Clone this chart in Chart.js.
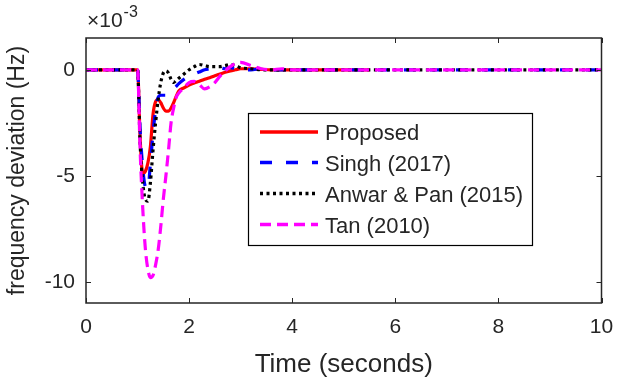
<!DOCTYPE html>
<html>
<head>
<meta charset="utf-8">
<script src="https://cdn.jsdelivr.net/npm/chart.js@4/dist/chart.umd.min.js"></script>
<style>
  html, body { margin: 0; padding: 0; background: #ffffff; }
  #wrap { width: 618px; height: 383px; }
</style>
</head>
<body>
<div id="wrap"><canvas id="c" width="618" height="383"></canvas></div>
<script>
// ---- data (frequency deviation in units of 1e-3 Hz) ----
const timeSec = [0, 1.0, 1.05, 1.1, 1.15, 1.2, 1.25, 1.3, 1.35, 1.4, 1.45, 1.5, 1.55, 1.6, 1.65, 1.7, 1.75, 1.8,
  1.9, 2.0, 2.1, 2.2, 2.3, 2.4, 2.5, 2.6, 2.7, 2.8, 2.9, 3.0,
  3.2, 3.4, 3.6, 3.8, 4.0, 4.5, 5.0, 5.5, 6.0, 7.0, 8.0, 9.0, 10.0];

const proposed = [0, 0, -3.2, -4.9, -4.8, -4.4, -3.6, -2.1, -1.5, -1.4, -1.55, -1.8, -1.95, -1.95, -1.8, -1.55, -1.25, -1.0,
  -0.85, -0.72, -0.62, -0.54, -0.45, -0.37, -0.28, -0.2, -0.12, -0.05, 0.0, 0.05,
  0.05, 0.02, 0, 0, 0, 0, 0, 0, null, null, null, null, null];

const singh2017 = [0, 0, -2.8, -4.6, -5.5, -5.6, -4.4, -3.0, -1.9, -1.3, -1.2, -1.2, -1.2, -1.17, -1.05, -0.9, -0.78, -0.65,
  -0.45, -0.3, -0.2, -0.1, 0, 0.05, 0.1, 0.1, 0.05, 0.1, 0.05, 0,
  0, 0.05, 0, 0, 0, 0, 0, 0, 0, 0, 0, 0, 0];

const anwarPan2015 = [0, 0, -3.5, -5.3, -6.1, -6.2, -5.3, -3.8, -2.5, -1.4, -0.6, -0.15, -0.05, -0.15, -0.45, -0.6, -0.5, -0.4,
  -0.2, 0, 0.15, 0.25, 0.2, 0.15, 0.15, 0.15, 0.2, 0.25, 0.2, 0.1,
  0.05, 0, 0, 0, 0, 0, 0, 0, 0, 0, 0, 0, 0];

const tan2010 = [0, 0, -3.8, -6.5, -8.4, -9.4, -9.8, -9.7, -9.2, -8.5, -7.4, -6.1, -5.0, -3.8, -2.5, -1.8, -1.3, -1.1,
  -0.85, -0.6, -0.55, -0.7, -0.9, -0.8, -0.6, -0.3, -0.05, 0.15, 0.3, 0.35,
  0.2, 0.05, 0, 0.05, 0, 0, 0, 0, 0, 0, 0, 0, 0];

const seriesNames = ['Proposed', 'Singh (2017)', 'Anwar & Pan (2015)', 'Tan (2010)'];
const xTicks = [0, 2, 4, 6, 8, 10];
const yTicks = [-10, -5, 0];

// ---- chart ----
const AX = '#262626';
const FONT = "'Liberation Sans', Arial, Helvetica, sans-serif";
const pts = vals => timeSec.map((t, i) => ({ x: t, y: vals[i] }));

const styles = [
  { color: '#ff0000', dash: [], order: 4 },
  { color: '#0000ff', dash: [12, 14], order: 3 },
  { color: '#000000', dash: [3, 3.5], order: 2 },
  { color: '#ff00ff', dash: [11, 6], order: 1 }
];
const seriesVals = [proposed, singh2017, anwarPan2015, tan2010];

const datasets = seriesVals.map((v, i) => ({
  label: seriesNames[i],
  data: pts(v),
  borderColor: styles[i].color,
  backgroundColor: styles[i].color,
  borderDash: styles[i].dash,
  borderWidth: 3.2,
  pointRadius: 0,
  fill: false,
  spanGaps: false,
  cubicInterpolationMode: 'monotone',
  order: styles[i].order
}));

const framePlugin = {
  id: 'frame',
  afterDraw(chart) {
    const ctx = chart.ctx;
    const a = chart.chartArea;
    const xs = chart.scales.x, ys = chart.scales.y;
    ctx.save();
    ctx.strokeStyle = AX;
    ctx.lineWidth = 1.5;
    ctx.setLineDash([]);
    ctx.strokeRect(a.left, a.top, a.right - a.left, a.bottom - a.top);
    ctx.lineWidth = 1;
    const tl = 5;
    ctx.beginPath();
    xTicks.forEach(v => {
      const px = Math.round(xs.getPixelForValue(v)) + 0.5;
      ctx.moveTo(px, a.bottom); ctx.lineTo(px, a.bottom - tl);
      ctx.moveTo(px, a.top); ctx.lineTo(px, a.top + tl);
    });
    yTicks.forEach(v => {
      const py = Math.round(ys.getPixelForValue(v)) + 0.5;
      ctx.moveTo(a.left, py); ctx.lineTo(a.left + tl, py);
      ctx.moveTo(a.right, py); ctx.lineTo(a.right - tl, py);
    });
    ctx.stroke();

    // exponent label
    ctx.fillStyle = AX;
    ctx.textBaseline = 'alphabetic';
    ctx.textAlign = 'left';
    ctx.font = '21px ' + FONT;
    ctx.fillText('\u00d710', a.left + 1, 27);
    const w = ctx.measureText('\u00d710').width;
    ctx.font = '16px ' + FONT;
    ctx.fillText('-3', a.left + 1 + w + 1, 17);

    // legend
    const lx = 248, ly = 113, lw = 284, lh = 132;
    ctx.fillStyle = '#ffffff';
    ctx.fillRect(lx, ly, lw, lh);
    ctx.strokeStyle = '#000000';
    ctx.lineWidth = 1.2;
    ctx.strokeRect(lx + 0.5, ly + 0.5, lw, lh);
    const rows = [134, 164.5, 195.5, 226.5];
    chart.data.datasets.forEach((ds, i) => {
      const y = rows[i];
      ctx.beginPath();
      ctx.strokeStyle = ds.borderColor;
      ctx.lineWidth = 3.5;
      ctx.setLineDash(ds.borderDash);
      ctx.moveTo(260, y - 2); ctx.lineTo(318, y - 2);
      ctx.stroke();
      ctx.setLineDash([]);
      ctx.fillStyle = AX;
      ctx.font = '22px ' + FONT;
      ctx.textBaseline = 'middle';
      ctx.fillText(ds.label, 325, y);
    });
    ctx.restore();
  }
};

new Chart(document.getElementById('c'), {
  type: 'line',
  data: { datasets },
  plugins: [framePlugin],
  options: {
    responsive: false,
    devicePixelRatio: 1,
    animation: false,
    layout: { padding: { top: 38, right: 16.5, left: 0, bottom: 0 } },
    plugins: { legend: { display: false }, tooltip: { enabled: false } },
    scales: {
      x: {
        type: 'linear', min: 0, max: 10,
        afterBuildTicks: s => { s.ticks = xTicks.map(v => ({ value: v })); },
        afterFit: s => { s.height = 80; s.paddingRight = 0; s.paddingLeft = 0; },
        grid: { display: false, drawTicks: false },
        border: { display: false },
        ticks: { color: AX, font: { family: FONT, size: 21 }, padding: 12, maxRotation: 0 },
        title: { display: true, text: 'Time (seconds)', color: AX, font: { family: FONT, size: 26 }, padding: { top: 0, bottom: 3 } }
      },
      y: {
        type: 'linear', min: -11, max: 1.5,
        afterBuildTicks: s => { s.ticks = yTicks.map(v => ({ value: v })); },
        afterFit: s => { s.width = 86; },
        grid: { display: false, drawTicks: false },
        border: { display: false },
        ticks: { color: AX, font: { family: FONT, size: 21 }, padding: 11 },
        title: { display: true, text: 'frequency deviation (Hz)', color: AX, font: { family: FONT, size: 23 }, padding: { top: 4, bottom: 0 } }
      }
    }
  }
});
</script>
</body>
</html>
